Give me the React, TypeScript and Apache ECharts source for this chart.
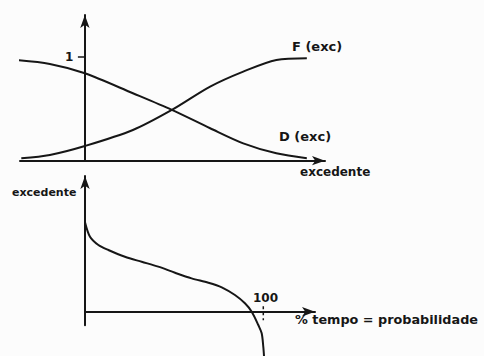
import React, { useEffect, useRef } from "react";
import * as echarts from "echarts";

// Top panel: D(exc) and F(exc) as functions of "excedente"
const dExcX = [-1.08, -0.54, 0, 0.74, 1.34, 1.93, 2.44, 2.95, 3.42];
const dExcY = [0.968, 0.93, 0.84, 0.648, 0.488, 0.312, 0.167, 0.071, 0.023];
const fExcX = [-0.98, -0.54, 0, 0.74, 1.34, 1.93, 2.44, 2.95, 3.42];
const fExcY = [0.023, 0.055, 0.141, 0.295, 0.488, 0.712, 0.856, 0.968, 0.985];
const topTickValues = [1];
const topTickLabel = "1";

// Bottom panel: duration curve (excedente vs % tempo)
const tempoPct = [0, 2.8, 7.5, 13.1, 22.4, 31.8, 41.1, 50.5, 59.8, 69.2, 76.7, 84.1, 89.7, 93.5, 97.2, 99.1, 100, 100.4];
const excedente = [0.66, 0.553, 0.492, 0.455, 0.405, 0.368, 0.332, 0.287, 0.246, 0.214, 0.18, 0.123, 0.062, 0, -0.098, -0.159, -0.258, -0.326];
const bottomTickLabel = "100";
const markX = [100, 100];
const markY = [0.04, -0.062];

const INK = "#161616";
const FONT = "'DejaVu Sans', sans-serif";

const zip = (a: number[], b: number[]) => a.map((v, i) => [v, b[i]]);

export default function App() {
  const ref = useRef<HTMLDivElement>(null);
  useEffect(() => {
    if (!ref.current) return;
    const chart = echarts.init(ref.current, null, { renderer: "svg" });
    const axisLine = (show = true) => ({
      show,
      onZero: true,
      symbol: ["none", "arrow"],
      symbolSize: [7, 13],
      lineStyle: { color: INK, width: 2 },
    });
    chart.setOption({
      animation: false,
      backgroundColor: "#fcfcfc",
      grid: [
        { left: 20, top: 15, width: 305, height: 145.7, outerBoundsMode: "none", containLabel: false },
        { left: 85, top: 176, width: 230, height: 149.3, outerBoundsMode: "none", containLabel: false },
      ],
      xAxis: [
        {
          type: "value",
          gridIndex: 0,
          min: -1,
          max: 3.7,
          axisLine: axisLine(),
          axisTick: { show: false },
          axisLabel: { show: false },
          splitLine: { show: false },
        },
        {
          type: "value",
          gridIndex: 1,
          min: 0,
          max: 129,
          axisLine: axisLine(),
          axisTick: { show: false },
          axisLabel: { show: false },
          splitLine: { show: false },
        },
      ],
      yAxis: [
        {
          type: "value",
          gridIndex: 0,
          min: 0,
          max: 1.4,
          axisLine: axisLine(),
          axisTick: {
            show: true,
            customValues: topTickValues,
            length: 7,
            lineStyle: { color: INK, width: 1.5 },
          },
          axisLabel: { show: false },
          splitLine: { show: false },
        },
        {
          type: "value",
          gridIndex: 1,
          min: -0.1,
          max: 1,
          axisLine: axisLine(),
          axisTick: { show: false },
          axisLabel: { show: false },
          splitLine: { show: false },
        },
      ],
      series: [
        {
          name: "D (exc)",
          type: "line",
          xAxisIndex: 0,
          yAxisIndex: 0,
          data: zip(dExcX, dExcY),
          smooth: 0.3,
          clip: false,
          symbol: "none",
          lineStyle: { color: INK, width: 2 },
        },
        {
          name: "F (exc)",
          type: "line",
          xAxisIndex: 0,
          yAxisIndex: 0,
          data: zip(fExcX, fExcY),
          smooth: 0.3,
          clip: false,
          symbol: "none",
          lineStyle: { color: INK, width: 2 },
        },
        {
          name: "excedente",
          type: "line",
          xAxisIndex: 1,
          yAxisIndex: 1,
          data: zip(tempoPct, excedente),
          smooth: 0.3,
          clip: false,
          symbol: "none",
          lineStyle: { color: INK, width: 2 },
        },
        {
          name: "100%",
          type: "line",
          xAxisIndex: 1,
          yAxisIndex: 1,
          data: zip(markX, markY),
          clip: false,
          symbol: "none",
          lineStyle: { color: INK, width: 1.5, type: [3, 3] },
        },
      ],
      graphic: [
        { type: "text", left: 65, top: 51, style: { text: topTickLabel, fill: INK, font: `bold 12px ${FONT}` } },
        { type: "text", left: 253, top: 292, style: { text: bottomTickLabel, fill: INK, font: `bold 12px ${FONT}` } },
        { type: "text", left: 292, top: 40, style: { text: "F (exc)", fill: INK, font: `bold 13px ${FONT}` } },
        { type: "text", left: 279, top: 130, style: { text: "D (exc)", fill: INK, font: `bold 13px ${FONT}` } },
        { type: "text", left: 300, top: 166, style: { text: "excedente", fill: INK, font: `bold 12px ${FONT}` } },
        { type: "text", left: 12, top: 187, style: { text: "excedente", fill: INK, font: `bold 11px ${FONT}` } },
        { type: "text", left: 295, top: 313, style: { text: "% tempo = probabilidade", fill: INK, font: `bold 12.8px ${FONT}` } },
      ],
    });
    return () => chart.dispose();
  }, []);
  return (
    <div
      ref={ref}
      style={{ position: "fixed", left: 0, top: 0, width: 484, height: 356 }}
    />
  );
}
